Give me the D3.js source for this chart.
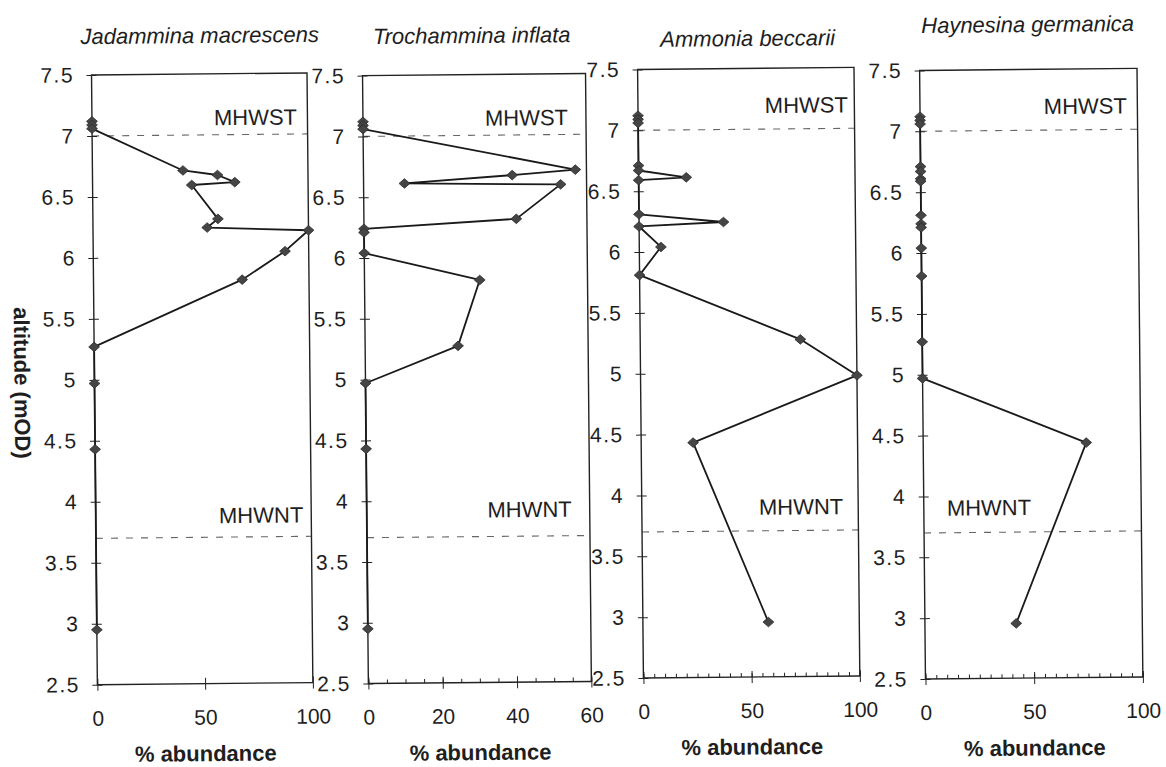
<!DOCTYPE html>
<html><head><meta charset="utf-8">
<script src="https://cdn.jsdelivr.net/npm/d3@7"></script>
<style>
body{margin:0;background:#fff}
svg{display:block}
text{font-family:"Liberation Sans",Arial,sans-serif;fill:#1e1e1e}
</style>
</head><body>
<svg id="c" width="1166" height="767"></svg>
<script>
// ---- data ----
const altitude    = [7.12, 7.09, 7.06, 6.71, 6.67, 6.61, 6.59, 6.31, 6.24, 6.21, 6.04, 5.81, 5.27, 4.97, 4.43, 2.95];
const jadammina   = [0, 0, 0, 42, 58, 66, 46, 58, 53, 100, 89, 69, 0, 0, 0, 0];
const trochammina = [0, 0, 0, 57, 40, 11, 53, 41, 0, 0, 0, 31, 25, 0, 0, 0];
const ammonia     = [0, 0, 0, 0, 0, 22, 0, 0, 39, 0, 10, 0, 74, 100, 24, 58];
const haynesina   = [0, 0, 0, 0, 0, 0, 0, 0, 0, 0, 0, 0, 0, 0, 75, 42];
const speciesNames = ["Jadammina macrescens", "Trochammina inflata", "Ammonia beccarii", "Haynesina germanica"];
const speciesValues = [jadammina, trochammina, ammonia, haynesina];
const xMax = [100, 60, 100, 100];
const xTickValues = [[0, 50, 100], [0, 20, 40, 60], [0, 50, 100], [0, 50, 100]];
const yTickValues = [2.5, 3, 3.5, 4, 4.5, 5, 5.5, 6, 6.5, 7, 7.5];
const levelNames = ["MHWST", "MHWNT"];
const levelValues = [7.0, 3.7];
const xAxisTitle = "% abundance";
const yAxisTitle = "altitude (mOD)";

// ---- layout (positions only) ----
const layout = [
  {left:94.5, right:310, top:70.3, bottom:680, title:[203,39.3], minor:false,
   lab:[{anchor:"end",dx:-10.5,dy:-9.5},{anchor:"end",dx:-8,dy:-14}]},
  {left:365.5, right:588.5, top:73.5, bottom:681.5, title:[475,42], minor:true,
   lab:[{anchor:"end",dx:-18,dy:-9.5},{anchor:"end",dx:-18,dy:-19}]},
  {left:640.6, right:857, top:70, bottom:678.6, title:[751,47.6], minor:true,
   lab:[{anchor:"end",dx:-6.5,dy:-16},{anchor:"end",dx:-15,dy:-16}]},
  {left:922.6, right:1140, top:73.7, bottom:682.3, title:[1031,36.3], minor:true,
   lab:[{anchor:"end",dx:-10.5,dy:-16},{anchor:"start",dx:23,dy:-17}]}
];

const svg = d3.select("#c");
const root = svg.append("g").attr("transform","rotate(-0.55,583,383)");

const ink = "#222";

speciesNames.forEach((name, i) => {
  const L = layout[i];
  const x = d3.scaleLinear().domain([0, xMax[i]]).range([L.left, L.right]);
  const y = d3.scaleLinear().domain([2.5, 7.5]).range([L.bottom, L.top]);
  const g = root.append("g");

  // reference levels
  levelValues.forEach((lv, k) => {
    g.append("line")
      .attr("x1", x(0)).attr("x2", x(xMax[i]))
      .attr("y1", y(lv)).attr("y2", y(lv))
      .attr("stroke", "#666").attr("stroke-width", 1.1)
      .attr("stroke-dasharray", "7,8");
    const lb = L.lab[k];
    g.append("text")
      .attr("x", (lb.anchor === "end" ? x(xMax[i]) : x(0)) + lb.dx)
      .attr("y", y(lv) + lb.dy)
      .attr("text-anchor", lb.anchor)
      .attr("font-size", 22)
      .text(levelNames[k]);
  });

  // frame
  g.append("rect")
    .attr("x", x(0)).attr("y", y(7.5))
    .attr("width", x(xMax[i]) - x(0)).attr("height", y(2.5) - y(7.5))
    .attr("fill", "none").attr("stroke", ink).attr("stroke-width", 1.4);

  // y axis (labels + outer ticks)
  const ya = g.append("g").attr("class", "yax").attr("transform", `translate(${x(0)},0)`)
    .call(d3.axisLeft(y).tickValues(yTickValues).tickSize(5).tickPadding(12.5).tickFormat(d3.format("")));
  g.append("g").attr("transform", `translate(${x(0)},0)`)
    .call(d3.axisRight(y).tickValues(yTickValues).tickSize(5).tickFormat(""));
  // x axis
  g.append("g").attr("transform", `translate(0,${y(2.5)})`)
    .call(d3.axisBottom(x).tickValues(xTickValues[i]).tickSize(6).tickPadding(20));
  g.append("g").attr("transform", `translate(0,${y(2.5)})`)
    .call(d3.axisTop(x).tickValues(xTickValues[i]).tickSize(6).tickFormat(""));
  if (L.minor) {
    g.append("g").attr("transform", `translate(0,${y(2.5)})`)
      .call(d3.axisTop(x).tickValues(d3.range(0, xMax[i] + 0.1, 5)).tickSize(4).tickFormat(""));
  }
  g.selectAll(".domain").remove();
  g.selectAll(".tick line").attr("stroke", ink).attr("stroke-width", 1);
  g.selectAll(".tick text").attr("font-size", 21).attr("fill", "#1e1e1e")
    .style("font-family", '"Liberation Sans",Arial,sans-serif');
  ya.selectAll(".tick text").style("letter-spacing", "1.5px");

  // data line and markers
  const pts = altitude.map((a, j) => ({a, v: speciesValues[i][j]}));
  g.append("path")
    .datum(pts)
    .attr("fill", "none").attr("stroke", "#1a1a1a").attr("stroke-width", 1.8)
    .attr("stroke-linejoin", "round")
    .attr("d", d3.line().x(d => x(d.v)).y(d => y(d.a)));
  g.selectAll("path.mk").data(pts).enter().append("path")
    .attr("class", "mk")
    .attr("transform", d => `translate(${x(d.v)},${y(d.a)})`)
    .attr("d", "M0,-4.8L5.4,0L0,4.8L-5.4,0Z")
    .attr("fill", "#454545").attr("stroke", "#2a2a2a").attr("stroke-width", 0.8);

  // title
  g.append("text")
    .attr("x", L.title[0]).attr("y", L.title[1])
    .attr("text-anchor", "middle").attr("font-size", 22).attr("font-style", "italic")
    .text(name);
  // x-axis title
  g.append("text")
    .attr("x", (L.left + L.right) / 2).attr("y", L.bottom + 77.5)
    .attr("text-anchor", "middle").attr("font-size", 22).attr("font-weight", "bold")
    .text(xAxisTitle);
});

// y-axis title
root.append("text")
  .attr("transform", "translate(22,377.6) rotate(90)")
  .attr("text-anchor", "middle").attr("dominant-baseline", "central")
  .attr("font-size", 22).attr("font-weight", "bold")
  .text(yAxisTitle);
</script>
</body></html>
